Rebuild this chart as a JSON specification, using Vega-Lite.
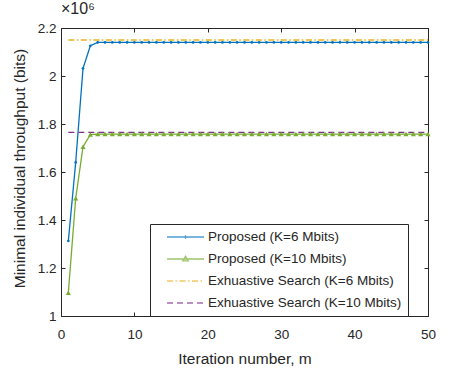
{
  "$schema": "https://vega.github.io/schema/vega-lite/v6.json",
  "autosize": {"type": "none"},
  "width": 367,
  "height": 288,
  "padding": {"left": 61, "top": 28, "right": 46, "bottom": 55},
  "background": "white",
  "title": {"text": "×10⁶", "anchor": "start", "frame": "group", "fontSize": 16, "fontWeight": "normal", "font": "Liberation Sans", "color": "#262626", "offset": 4},
  "config": {
    "view": {"stroke": null},
    "font": "Liberation Sans",
    "axis": {"domainColor": "#262626", "tickColor": "#262626", "tickSize": -4, "labelFlush": false, "labelOverlap": false, "labelFontSize": 13.5, "labelColor": "#262626", "labelFont": "Liberation Sans", "titleFont": "Liberation Sans", "titleFontSize": 15.5, "titleFontWeight": "normal", "titleColor": "#262626", "grid": false, "domainWidth": 1},
    "legend": {"orient": "none", "legendX": 89, "legendY": 196, "strokeColor": "#262626", "fillColor": "white", "padding": 6, "labelFont": "Liberation Sans", "labelFontSize": 13.5, "labelColor": "#262626", "labelLimit": 400, "rowPadding": 8, "labelOffset": 38, "symbolSize": 144, "symbolStrokeWidth": 1.3}
  },
  "data": {"values": [
    {"series": "Proposed (K=6 Mbits)", "m": 1, "v": 1.3125},
    {"series": "Proposed (K=6 Mbits)", "m": 2, "v": 1.64},
    {"series": "Proposed (K=6 Mbits)", "m": 3, "v": 2.032},
    {"series": "Proposed (K=6 Mbits)", "m": 4, "v": 2.126},
    {"series": "Proposed (K=6 Mbits)", "m": 5, "v": 2.14},
    {"series": "Proposed (K=6 Mbits)", "m": 6, "v": 2.14},
    {"series": "Proposed (K=6 Mbits)", "m": 7, "v": 2.14},
    {"series": "Proposed (K=6 Mbits)", "m": 8, "v": 2.14},
    {"series": "Proposed (K=6 Mbits)", "m": 9, "v": 2.14},
    {"series": "Proposed (K=6 Mbits)", "m": 10, "v": 2.14},
    {"series": "Proposed (K=6 Mbits)", "m": 11, "v": 2.14},
    {"series": "Proposed (K=6 Mbits)", "m": 12, "v": 2.14},
    {"series": "Proposed (K=6 Mbits)", "m": 13, "v": 2.14},
    {"series": "Proposed (K=6 Mbits)", "m": 14, "v": 2.14},
    {"series": "Proposed (K=6 Mbits)", "m": 15, "v": 2.14},
    {"series": "Proposed (K=6 Mbits)", "m": 16, "v": 2.14},
    {"series": "Proposed (K=6 Mbits)", "m": 17, "v": 2.14},
    {"series": "Proposed (K=6 Mbits)", "m": 18, "v": 2.14},
    {"series": "Proposed (K=6 Mbits)", "m": 19, "v": 2.14},
    {"series": "Proposed (K=6 Mbits)", "m": 20, "v": 2.14},
    {"series": "Proposed (K=6 Mbits)", "m": 21, "v": 2.14},
    {"series": "Proposed (K=6 Mbits)", "m": 22, "v": 2.14},
    {"series": "Proposed (K=6 Mbits)", "m": 23, "v": 2.14},
    {"series": "Proposed (K=6 Mbits)", "m": 24, "v": 2.14},
    {"series": "Proposed (K=6 Mbits)", "m": 25, "v": 2.14},
    {"series": "Proposed (K=6 Mbits)", "m": 26, "v": 2.14},
    {"series": "Proposed (K=6 Mbits)", "m": 27, "v": 2.14},
    {"series": "Proposed (K=6 Mbits)", "m": 28, "v": 2.14},
    {"series": "Proposed (K=6 Mbits)", "m": 29, "v": 2.14},
    {"series": "Proposed (K=6 Mbits)", "m": 30, "v": 2.14},
    {"series": "Proposed (K=6 Mbits)", "m": 31, "v": 2.14},
    {"series": "Proposed (K=6 Mbits)", "m": 32, "v": 2.14},
    {"series": "Proposed (K=6 Mbits)", "m": 33, "v": 2.14},
    {"series": "Proposed (K=6 Mbits)", "m": 34, "v": 2.14},
    {"series": "Proposed (K=6 Mbits)", "m": 35, "v": 2.14},
    {"series": "Proposed (K=6 Mbits)", "m": 36, "v": 2.14},
    {"series": "Proposed (K=6 Mbits)", "m": 37, "v": 2.14},
    {"series": "Proposed (K=6 Mbits)", "m": 38, "v": 2.14},
    {"series": "Proposed (K=6 Mbits)", "m": 39, "v": 2.14},
    {"series": "Proposed (K=6 Mbits)", "m": 40, "v": 2.14},
    {"series": "Proposed (K=6 Mbits)", "m": 41, "v": 2.14},
    {"series": "Proposed (K=6 Mbits)", "m": 42, "v": 2.14},
    {"series": "Proposed (K=6 Mbits)", "m": 43, "v": 2.14},
    {"series": "Proposed (K=6 Mbits)", "m": 44, "v": 2.14},
    {"series": "Proposed (K=6 Mbits)", "m": 45, "v": 2.14},
    {"series": "Proposed (K=6 Mbits)", "m": 46, "v": 2.14},
    {"series": "Proposed (K=6 Mbits)", "m": 47, "v": 2.14},
    {"series": "Proposed (K=6 Mbits)", "m": 48, "v": 2.14},
    {"series": "Proposed (K=6 Mbits)", "m": 49, "v": 2.14},
    {"series": "Proposed (K=6 Mbits)", "m": 50, "v": 2.14},
    {"series": "Proposed (K=10 Mbits)", "m": 1, "v": 1.097},
    {"series": "Proposed (K=10 Mbits)", "m": 2, "v": 1.49},
    {"series": "Proposed (K=10 Mbits)", "m": 3, "v": 1.705},
    {"series": "Proposed (K=10 Mbits)", "m": 4, "v": 1.756},
    {"series": "Proposed (K=10 Mbits)", "m": 5, "v": 1.758},
    {"series": "Proposed (K=10 Mbits)", "m": 6, "v": 1.758},
    {"series": "Proposed (K=10 Mbits)", "m": 7, "v": 1.758},
    {"series": "Proposed (K=10 Mbits)", "m": 8, "v": 1.758},
    {"series": "Proposed (K=10 Mbits)", "m": 9, "v": 1.758},
    {"series": "Proposed (K=10 Mbits)", "m": 10, "v": 1.758},
    {"series": "Proposed (K=10 Mbits)", "m": 11, "v": 1.758},
    {"series": "Proposed (K=10 Mbits)", "m": 12, "v": 1.758},
    {"series": "Proposed (K=10 Mbits)", "m": 13, "v": 1.758},
    {"series": "Proposed (K=10 Mbits)", "m": 14, "v": 1.758},
    {"series": "Proposed (K=10 Mbits)", "m": 15, "v": 1.758},
    {"series": "Proposed (K=10 Mbits)", "m": 16, "v": 1.758},
    {"series": "Proposed (K=10 Mbits)", "m": 17, "v": 1.758},
    {"series": "Proposed (K=10 Mbits)", "m": 18, "v": 1.758},
    {"series": "Proposed (K=10 Mbits)", "m": 19, "v": 1.758},
    {"series": "Proposed (K=10 Mbits)", "m": 20, "v": 1.758},
    {"series": "Proposed (K=10 Mbits)", "m": 21, "v": 1.758},
    {"series": "Proposed (K=10 Mbits)", "m": 22, "v": 1.758},
    {"series": "Proposed (K=10 Mbits)", "m": 23, "v": 1.758},
    {"series": "Proposed (K=10 Mbits)", "m": 24, "v": 1.758},
    {"series": "Proposed (K=10 Mbits)", "m": 25, "v": 1.758},
    {"series": "Proposed (K=10 Mbits)", "m": 26, "v": 1.758},
    {"series": "Proposed (K=10 Mbits)", "m": 27, "v": 1.758},
    {"series": "Proposed (K=10 Mbits)", "m": 28, "v": 1.758},
    {"series": "Proposed (K=10 Mbits)", "m": 29, "v": 1.758},
    {"series": "Proposed (K=10 Mbits)", "m": 30, "v": 1.758},
    {"series": "Proposed (K=10 Mbits)", "m": 31, "v": 1.758},
    {"series": "Proposed (K=10 Mbits)", "m": 32, "v": 1.758},
    {"series": "Proposed (K=10 Mbits)", "m": 33, "v": 1.758},
    {"series": "Proposed (K=10 Mbits)", "m": 34, "v": 1.758},
    {"series": "Proposed (K=10 Mbits)", "m": 35, "v": 1.758},
    {"series": "Proposed (K=10 Mbits)", "m": 36, "v": 1.758},
    {"series": "Proposed (K=10 Mbits)", "m": 37, "v": 1.758},
    {"series": "Proposed (K=10 Mbits)", "m": 38, "v": 1.758},
    {"series": "Proposed (K=10 Mbits)", "m": 39, "v": 1.758},
    {"series": "Proposed (K=10 Mbits)", "m": 40, "v": 1.758},
    {"series": "Proposed (K=10 Mbits)", "m": 41, "v": 1.758},
    {"series": "Proposed (K=10 Mbits)", "m": 42, "v": 1.758},
    {"series": "Proposed (K=10 Mbits)", "m": 43, "v": 1.758},
    {"series": "Proposed (K=10 Mbits)", "m": 44, "v": 1.758},
    {"series": "Proposed (K=10 Mbits)", "m": 45, "v": 1.758},
    {"series": "Proposed (K=10 Mbits)", "m": 46, "v": 1.758},
    {"series": "Proposed (K=10 Mbits)", "m": 47, "v": 1.758},
    {"series": "Proposed (K=10 Mbits)", "m": 48, "v": 1.758},
    {"series": "Proposed (K=10 Mbits)", "m": 49, "v": 1.758},
    {"series": "Proposed (K=10 Mbits)", "m": 50, "v": 1.758},
    {"series": "Exhuastive Search (K=6 Mbits)", "m": 1, "v": 2.15},
    {"series": "Exhuastive Search (K=6 Mbits)", "m": 50, "v": 2.15},
    {"series": "Exhuastive Search (K=10 Mbits)", "m": 1, "v": 1.765},
    {"series": "Exhuastive Search (K=10 Mbits)", "m": 50, "v": 1.765}
  ]},
  "layer": [
    {
      "mark": {"type": "line", "strokeWidth": 1.3},
      "encoding": {
        "x": {"field": "m", "type": "quantitative", "scale": {"domain": [0, 50], "nice": false},
              "axis": {"orient": "bottom", "values": [0, 10, 20, 30, 40, 50], "title": "Iteration number, m", "labelPadding": 15, "titleX": 183.5, "titleY": 47, "titleBaseline": "alphabetic"}},
        "y": {"field": "v", "type": "quantitative", "scale": {"domain": [1, 2.2], "nice": false, "zero": false},
              "axis": {"orient": "left", "values": [1, 1.2, 1.4, 1.6, 1.8, 2, 2.2], "format": "~g", "title": "Minimal individual throughput (bits)", "labelPadding": 9, "titleX": -37, "titleY": 140, "titleBaseline": "alphabetic", "titleAlign": "center", "titleAngle": -90}},
        "color": {"field": "series", "type": "nominal", "title": null,
                  "scale": {"domain": ["Proposed (K=6 Mbits)", "Proposed (K=10 Mbits)", "Exhuastive Search (K=6 Mbits)", "Exhuastive Search (K=10 Mbits)"],
                            "range": ["#0072BD", "#77AC30", "#EDB120", "#7E2F8E"]}},
        "strokeDash": {"field": "series", "type": "nominal", "title": null,
                  "scale": {"domain": ["Proposed (K=6 Mbits)", "Proposed (K=10 Mbits)", "Exhuastive Search (K=6 Mbits)", "Exhuastive Search (K=10 Mbits)"],
                            "range": [[1, 0], [1, 0], [6, 2.5, 1.5, 2.5], [6, 4]]}}
      }
    },
    {
      "transform": [{"filter": "datum.m < 0"}],
      "mark": {"type": "point"},
      "encoding": {
        "x": {"field": "m", "type": "quantitative", "axis": {"orient": "top", "values": [0, 10, 20, 30, 40, 50], "labels": false, "title": null}},
        "y": {"field": "v", "type": "quantitative", "axis": {"orient": "right", "values": [1, 1.2, 1.4, 1.6, 1.8, 2, 2.2], "labels": false, "title": null}},
        "color": {"field": "series", "type": "nominal", "title": null,
                  "scale": {"domain": ["Proposed (K=6 Mbits)", "Proposed (K=10 Mbits)", "Exhuastive Search (K=6 Mbits)", "Exhuastive Search (K=10 Mbits)"]}},
        "shape": {"field": "series", "type": "nominal", "title": null,
                  "scale": {"domain": ["Proposed (K=6 Mbits)", "Proposed (K=10 Mbits)", "Exhuastive Search (K=6 Mbits)", "Exhuastive Search (K=10 Mbits)"],
                            "range": ["M0.67,0H6.83M3.75,-0.3V0.3", "M0.67,0H6.83M3.3,0.3L3.75,-0.45L4.2,0.3Z", "M0.67,0H6.83", "M0.67,0H6.83"]}}
      }
    },
    {
      "transform": [{"filter": "datum.series === 'Proposed (K=6 Mbits)'"}],
      "mark": {"type": "point", "shape": "circle", "filled": true, "size": 7, "color": "#0072BD", "opacity": 1},
      "encoding": {
        "x": {"field": "m", "type": "quantitative", "axis": null},
        "y": {"field": "v", "type": "quantitative", "axis": null}
      }
    },
    {
      "transform": [{"filter": "datum.series === 'Proposed (K=10 Mbits)'"}],
      "mark": {"type": "point", "shape": "triangle-up", "filled": true, "size": 26, "color": "#77AC30", "opacity": 1},
      "encoding": {
        "x": {"field": "m", "type": "quantitative", "axis": null},
        "y": {"field": "v", "type": "quantitative", "axis": null}
      }
    }
  ]
}
